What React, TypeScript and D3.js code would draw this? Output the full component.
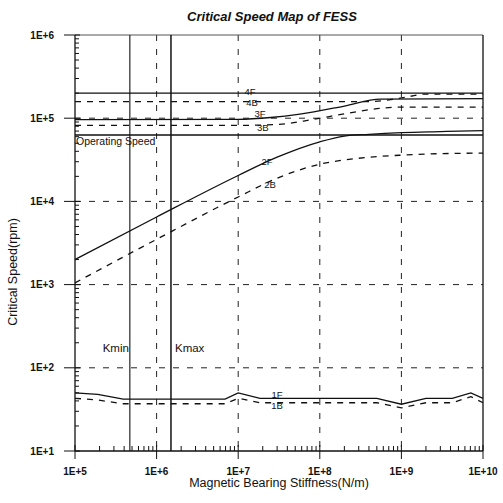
import React, { useRef, useEffect } from "react";
import * as d3 from "d3";

// stiffness breakpoints (N/m) and critical speeds (rpm)
const k1 = [1e5, 1.9e5, 3.9e5, 6.9e6, 1e7, 1.85e7, 5e8, 1e9, 2e9, 4.2e9, 7.1e9, 1e10];
const f1 = [50, 48, 42, 42, 50, 43, 43, 36.5, 43, 43, 50, 43];
const b1 = [43, 41, 37, 37, 43, 38, 38, 33, 38, 38, 45, 38];

const k2 = [1e5, 1e6, 1e7, 3e7, 1e8, 2e8, 4e8, 1e9, 3e9, 1e10];
const f2 = [2.0e3, 6.5e3, 2.05e4, 3.4e4, 5.2e4, 6.1e4, 6.4e4, 6.7e4, 6.9e4, 7.1e4];
const k2b = [1e5, 1e6, 1e7, 3e7, 1e8, 3e8, 1e9, 3e9, 1e10];
const b2 = [1.05e3, 3.5e3, 1.13e4, 1.9e4, 2.8e4, 3.3e4, 3.6e4, 3.75e4, 3.8e4];

const k3f = [1e5, 1e7, 2.5e7, 5.7e7, 2e8, 5.5e8, 1e10];
const f3 = [9.6e4, 9.7e4, 1.02e5, 1.12e5, 1.4e5, 1.7e5, 1.72e5];
const k3b = [1e5, 1e7, 3e7, 8e7, 2e8, 5e8, 1e9, 1e10];
const b3 = [8.2e4, 8.2e4, 8.4e4, 9.6e4, 1.13e5, 1.3e5, 1.36e5, 1.36e5];

const k4f = [1e5, 1e10];
const f4 = [2.0e5, 2.0e5];
const k4b = [1e5, 4e8, 1e9, 2e9, 1e10];
const b4 = [1.58e5, 1.58e5, 1.75e5, 1.95e5, 1.95e5];

const operatingSpeed = 6.3e4;
const kmin = 4.7e5;
const kmax = 1.5e6;

const xTicks = [1e5, 1e6, 1e7, 1e8, 1e9, 1e10];
const yTicks = [1e1, 1e2, 1e3, 1e4, 1e5, 1e6];
const tickLabel = (v: number) => "1E+" + Math.round(Math.log10(v));

// mode labels, placed at their centre
const seriesLabels = [
  { t: "4F", k: 1.4e7, v: 2.07e5 },
  { t: "4B", k: 1.48e7, v: 1.52e5 },
  { t: "3F", k: 1.85e7, v: 1.12e5 },
  { t: "3B", k: 2.0e7, v: 7.6e4 },
  { t: "2F", k: 2.25e7, v: 2.98e4 },
  { t: "2B", k: 2.45e7, v: 1.57e4 },
  { t: "1F", k: 3e7, v: 47 },
  { t: "1B", k: 3e7, v: 35 },
];

export default function App() {
  const svgRef = useRef<SVGSVGElement>(null);

  useEffect(() => {
    const W = 503, H = 503;
    const left = 75, right = 483, top = 35, bottom = 451;
    const svg = d3.select(svgRef.current);
    svg.selectAll("*").remove();
    svg.attr("width", W).attr("height", H);

    const x = d3.scaleLog().domain([1e5, 1e10]).range([left, right]);
    const y = d3.scaleLog().domain([1e1, 1e6]).range([bottom, top]);
    const font = "Liberation Sans, Arial, sans-serif";

    svg.append("rect").attr("width", W).attr("height", H).attr("fill", "#fff");

    // dashed grid
    const g = svg.append("g").attr("stroke", "#222").attr("stroke-width", 1).attr("stroke-dasharray", "6,8");
    xTicks.slice(1, -1).forEach(t => {
      g.append("line").attr("x1", x(t)).attr("x2", x(t)).attr("y1", top).attr("y2", bottom);
    });
    yTicks.slice(1, -1).forEach(t => {
      g.append("line").attr("x1", left).attr("x2", right).attr("y1", y(t)).attr("y2", y(t));
    });

    // frame
    svg.append("line").attr("x1", left).attr("x2", right).attr("y1", top).attr("y2", top).attr("stroke", "#555");
    svg.append("line").attr("x1", right).attr("x2", right).attr("y1", top).attr("y2", bottom).attr("stroke", "#111").attr("stroke-width", 1.3);
    svg.append("line").attr("x1", left).attr("x2", left).attr("y1", top).attr("y2", bottom).attr("stroke", "#111").attr("stroke-width", 1.3);
    svg.append("line").attr("x1", left).attr("x2", right).attr("y1", bottom).attr("y2", bottom).attr("stroke", "#111").attr("stroke-width", 1.3);

    // ticks
    const ax = svg.append("g").attr("stroke", "#111").attr("stroke-width", 1);
    x.ticks().forEach(t => {
      const major = xTicks.includes(t);
      ax.append("line").attr("x1", x(t)).attr("x2", x(t))
        .attr("y1", major ? bottom - 6 : bottom - 5).attr("y2", major ? bottom + 8 : bottom);
    });
    y.ticks().forEach(t => {
      const major = yTicks.includes(t);
      ax.append("line").attr("y1", y(t)).attr("y2", y(t))
        .attr("x1", major ? left - 11 : left).attr("x2", major ? left + 5 : left + 4);
    });

    svg.append("g").selectAll("text").data(xTicks).join("text")
      .attr("x", d => x(d)).attr("y", 475).attr("text-anchor", "middle")
      .attr("font-family", font).attr("font-size", 10).attr("font-weight", "bold").attr("fill", "#111")
      .text(tickLabel);
    svg.append("g").selectAll("text").data(yTicks).join("text")
      .attr("x", 54).attr("y", d => y(d) + 3.5).attr("text-anchor", "end")
      .attr("font-family", font).attr("font-size", 10).attr("font-weight", "bold").attr("fill", "#111")
      .text(tickLabel);

    // curves
    const curves: [number[], number[], boolean, boolean][] = [
      [k1, f1, false, false], [k1, b1, true, false],
      [k2, f2, false, true], [k2b, b2, true, true],
      [k3f, f3, false, true], [k3b, b3, true, true],
      [k4f, f4, false, false], [k4b, b4, true, true],
    ];
    curves.forEach(([ks, vs, dashed, smooth]) => {
      const line = d3.line<number>()
        .x((d, i) => x(ks[i])).y(d => y(d))
        .curve(smooth ? d3.curveMonotoneX : d3.curveLinear);
      svg.append("path").attr("d", line(vs)).attr("fill", "none")
        .attr("stroke", "#111").attr("stroke-width", 1.3)
        .attr("stroke-dasharray", dashed ? "6,6" : null);
    });

    // operating speed and bearing stiffness limits
    svg.append("line").attr("x1", left).attr("x2", right)
      .attr("y1", y(operatingSpeed)).attr("y2", y(operatingSpeed))
      .attr("stroke", "#111").attr("stroke-width", 1.5);
    [kmin, kmax].forEach((k, i) => {
      svg.append("line").attr("x1", x(k)).attr("x2", x(k)).attr("y1", top).attr("y2", bottom)
        .attr("stroke", "#111").attr("stroke-width", i ? 1.5 : 1.1);
    });

    const txt = (t: string, px: number, py: number, size: number, anchor = "start") =>
      svg.append("text").attr("x", px).attr("y", py).attr("text-anchor", anchor)
        .attr("font-family", font).attr("font-size", size).attr("fill", "#111").text(t);

    txt("Operating Speed", left + 1, y(operatingSpeed) + 10, 10.5);
    txt("Kmin", x(kmin) - 1, 352, 11.5, "end");
    txt("Kmax", x(kmax) + 4, 352, 11.5);
    seriesLabels.forEach(l => txt(l.t, x(l.k), y(l.v) + 3.3, 9.5, "middle"));

    // titles
    svg.append("text").attr("x", 272).attr("y", 21).attr("text-anchor", "middle")
      .attr("font-family", font).attr("font-size", 13).attr("font-weight", "bold").attr("font-style", "italic")
      .attr("fill", "#111").text("Critical Speed Map of FESS");
    txt("Magnetic Bearing Stiffness(N/m)", 279, 487, 12.5, "middle");
    svg.append("text").attr("transform", "translate(17,272) rotate(-90)").attr("text-anchor", "middle")
      .attr("font-family", font).attr("font-size", 12.5).attr("fill", "#111").text("Critical Speed(rpm)");
  }, []);

  return (
    <svg ref={svgRef} style={{ position: "absolute", left: 0, top: 0, display: "block" }} />
  );
}
